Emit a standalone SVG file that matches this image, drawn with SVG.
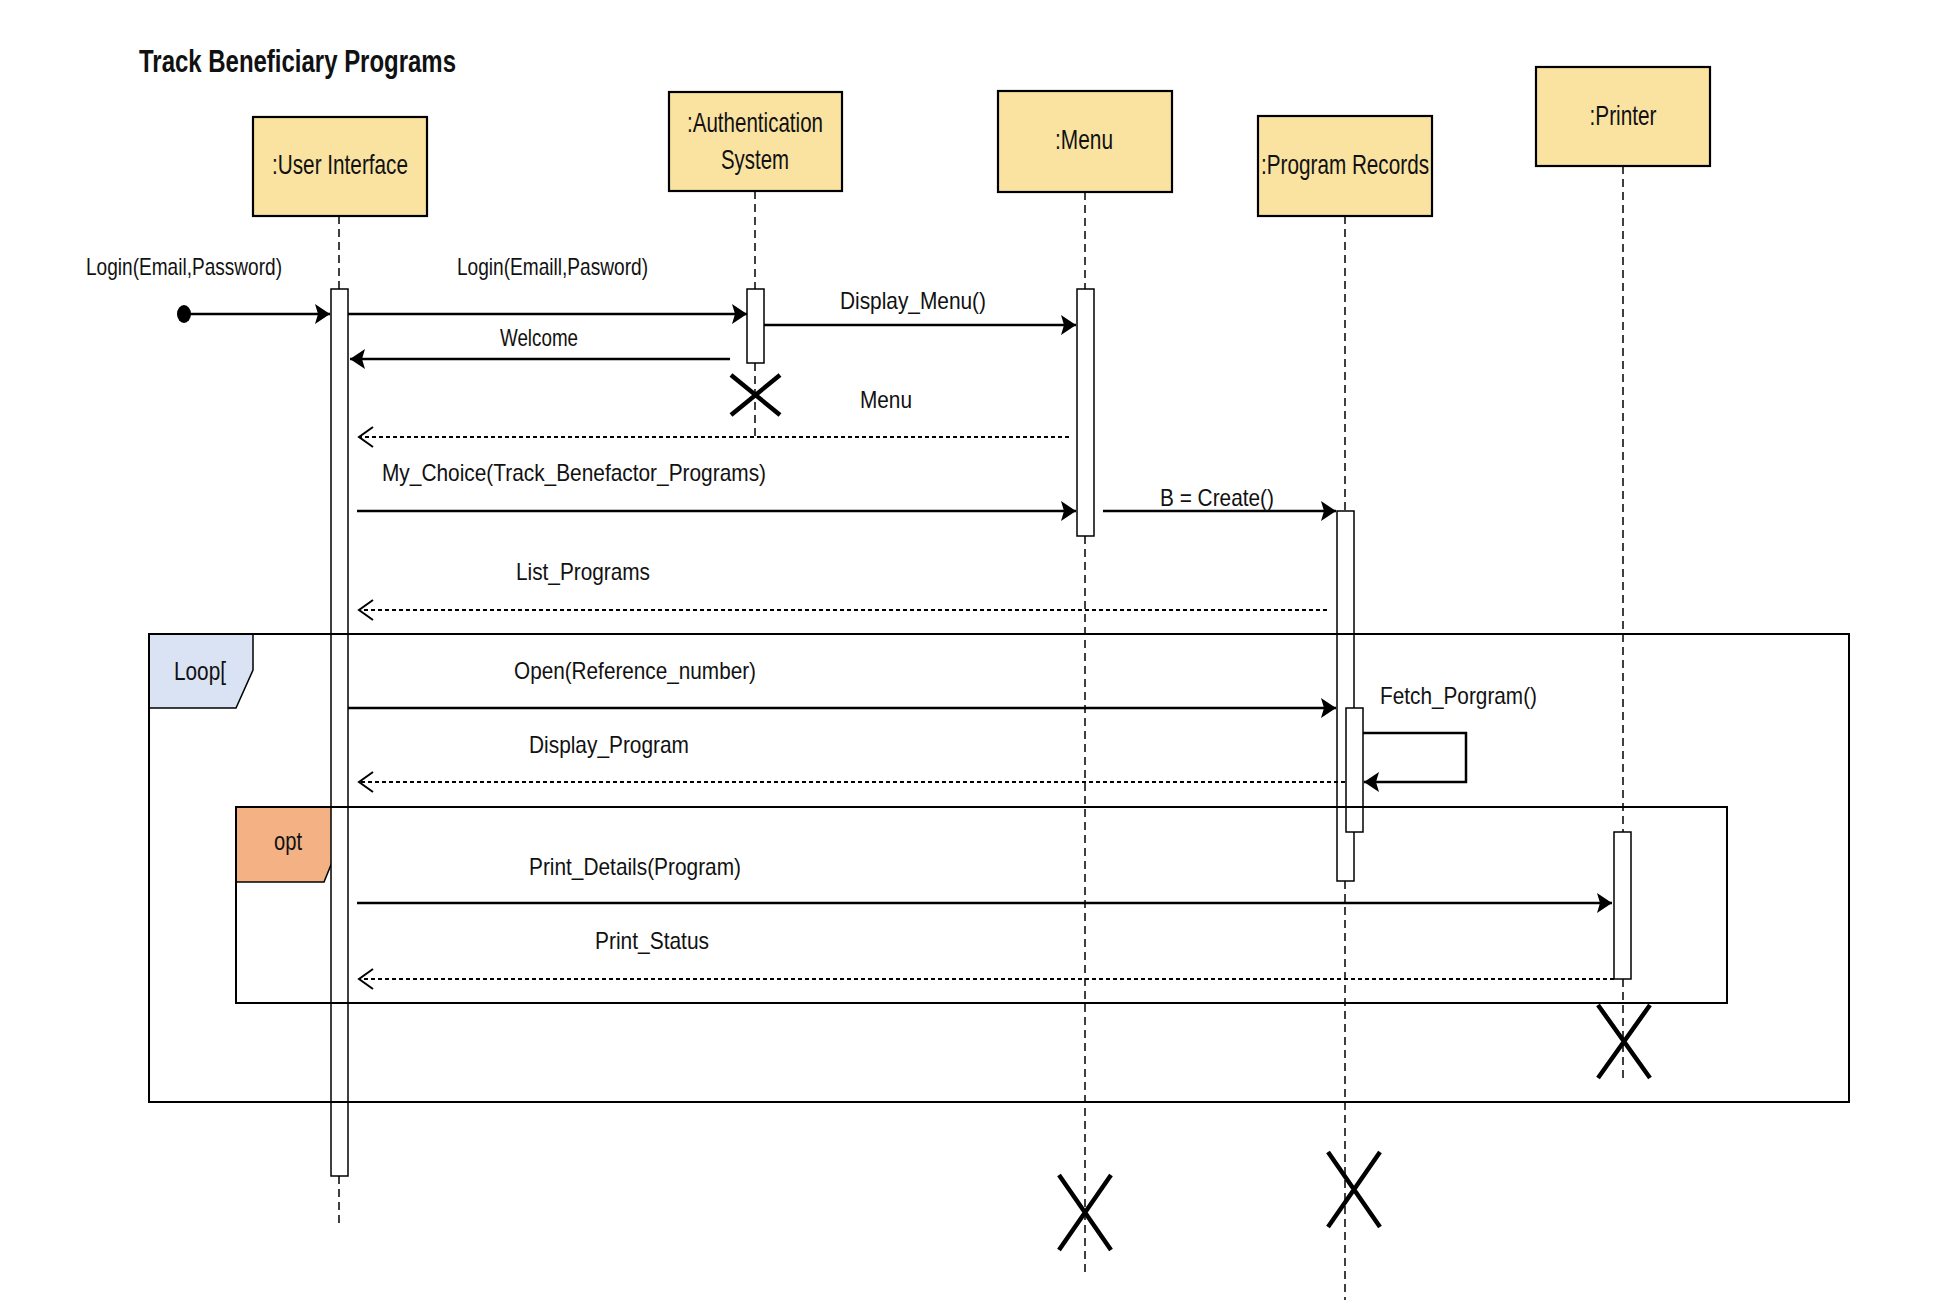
<svg xmlns="http://www.w3.org/2000/svg" width="1958" height="1314" viewBox="0 0 1958 1314">
<style>
text{font-family:"Liberation Sans",Arial,sans-serif;fill:#111}
.head{fill:#FAE3A1;stroke:#000;stroke-width:2.2}
.hl{font-size:28px;text-anchor:middle}
.msg{font-size:24px}
.life{stroke:#000;stroke-width:1.5;stroke-dasharray:8 5;fill:none}
.act{fill:#fff;stroke:#000;stroke-width:1.5}
.sync{stroke:#000;stroke-width:2.5;fill:none;marker-end:url(#fill)}
.ret{stroke:#000;stroke-width:2.2;stroke-dasharray:4 3;fill:none;marker-end:url(#open)}
.frame{fill:none;stroke:#000;stroke-width:2}
.x{stroke:#000;stroke-width:4.5;fill:none}
</style>
<defs>
<marker id="fill" markerUnits="userSpaceOnUse" markerWidth="16" markerHeight="22" refX="15" refY="10" orient="auto" viewBox="0 0 16 22">
<path d="M0,0 L15,10 L0,20 L3,10 Z" fill="#000"/>
</marker>
<marker id="open" markerUnits="userSpaceOnUse" markerWidth="18" markerHeight="24" refX="15" refY="11" orient="auto" viewBox="0 0 18 24">
<path d="M1,1 L15,11 L1,21" fill="none" stroke="#000" stroke-width="2"/>
</marker>
</defs>
<rect width="1958" height="1314" fill="#fff"/>
<text x="139" y="72" font-size="31" font-weight="bold" textLength="317" lengthAdjust="spacingAndGlyphs">Track Beneficiary Programs</text>

<g id="frames-tags">
<polygon points="149,634 253,634 253,670 236,708 149,708" fill="#DAE3F3" stroke="#000" stroke-width="1.5"/>
<polygon points="236,807 339,807 339,845 324,882 236,882" fill="#F4B183" stroke="#000" stroke-width="1.5"/>
</g>

<g id="user-interface">
<rect class="head" x="253" y="117" width="174" height="99"/>
<text class="hl" x="340" y="174" textLength="136" lengthAdjust="spacingAndGlyphs">:User Interface</text>
<line class="life" x1="339" y1="216" x2="339" y2="289"/>
<rect class="act" x="331" y="289" width="17" height="887"/>
<line class="life" x1="339" y1="1176" x2="339" y2="1227"/>
</g>

<g id="authentication-system">
<rect class="head" x="669" y="92" width="173" height="99"/>
<text class="hl" x="755" y="132" textLength="136" lengthAdjust="spacingAndGlyphs">:Authentication</text>
<text class="hl" x="755" y="169" textLength="68" lengthAdjust="spacingAndGlyphs">System</text>
<line class="life" x1="755" y1="191" x2="755" y2="289"/>
<rect class="act" x="747" y="289" width="17" height="74"/>
<line class="life" x1="755" y1="363" x2="755" y2="440"/>
<path class="x" d="M731,375 L780,415 M780,375 L731,415"/>
</g>

<g id="menu">
<rect class="head" x="998" y="91" width="174" height="101"/>
<text class="hl" x="1084" y="149" textLength="58" lengthAdjust="spacingAndGlyphs">:Menu</text>
<line class="life" x1="1085" y1="192" x2="1085" y2="289"/>
<rect class="act" x="1077" y="289" width="17" height="247"/>
<line class="life" x1="1085" y1="536" x2="1085" y2="1277"/>
<path class="x" d="M1059,1175 L1111,1250 M1111,1175 L1059,1250"/>
</g>

<g id="program-records">
<rect class="head" x="1258" y="116" width="174" height="100"/>
<text class="hl" x="1345" y="174" textLength="168" lengthAdjust="spacingAndGlyphs">:Program Records</text>
<line class="life" x1="1345" y1="216" x2="1345" y2="511"/>
<rect class="act" x="1337" y="511" width="17" height="370"/>
<rect class="act" x="1346" y="708" width="17" height="124"/>
<line class="life" x1="1345" y1="881" x2="1345" y2="1300"/>
<path class="x" d="M1328,1152 L1380,1227 M1380,1152 L1328,1227"/>
</g>

<g id="printer">
<rect class="head" x="1536" y="67" width="174" height="99"/>
<text class="hl" x="1623" y="125" textLength="67" lengthAdjust="spacingAndGlyphs">:Printer</text>
<line class="life" x1="1623" y1="166" x2="1623" y2="832"/>
<rect class="act" x="1614" y="832" width="17" height="147"/>
<line class="life" x1="1623" y1="979" x2="1623" y2="1080"/>
<path class="x" d="M1598,1005 L1650,1078 M1650,1005 L1598,1078"/>
</g>

<g id="frames">
<rect class="frame" x="149" y="634" width="1700" height="468"/>
<rect class="frame" x="236" y="807" width="1491" height="196"/>
<text x="200" y="680" font-size="25" text-anchor="middle" textLength="52" lengthAdjust="spacingAndGlyphs">Loop[</text>
<text x="288" y="850" font-size="25" text-anchor="middle" textLength="28" lengthAdjust="spacingAndGlyphs">opt</text>
</g>

<g id="connectors">
<ellipse cx="184" cy="314" rx="7" ry="9" fill="#000"/>
<line class="sync" x1="190" y1="314" x2="330" y2="314"/>
<text class="msg" x="86" y="275" textLength="196" lengthAdjust="spacingAndGlyphs">Login(Email,Password)</text>

<line class="sync" x1="348" y1="314" x2="747" y2="314"/>
<text class="msg" x="457" y="275" textLength="191" lengthAdjust="spacingAndGlyphs">Login(Emaill,Pasword)</text>

<line class="sync" x1="764" y1="325" x2="1076" y2="325"/>
<text class="msg" x="840" y="309" textLength="146" lengthAdjust="spacingAndGlyphs">Display_Menu()</text>

<line class="sync" x1="730" y1="359" x2="350" y2="359"/>
<text class="msg" x="500" y="346" textLength="78" lengthAdjust="spacingAndGlyphs">Welcome</text>

<line class="ret" x1="1069" y1="437" x2="359" y2="437"/>
<text class="msg" x="860" y="408" textLength="52" lengthAdjust="spacingAndGlyphs">Menu</text>

<line class="sync" x1="357" y1="511" x2="1076" y2="511"/>
<text class="msg" x="382" y="481" textLength="384" lengthAdjust="spacingAndGlyphs">My_Choice(Track_Benefactor_Programs)</text>

<line class="sync" x1="1103" y1="511" x2="1336" y2="511"/>
<text class="msg" x="1160" y="506" textLength="114" lengthAdjust="spacingAndGlyphs">B = Create()</text>

<line class="ret" x1="1327" y1="610" x2="359" y2="610"/>
<text class="msg" x="516" y="580" textLength="134" lengthAdjust="spacingAndGlyphs">List_Programs</text>

<line class="sync" x1="348" y1="708" x2="1336" y2="708"/>
<text class="msg" x="514" y="679" textLength="242" lengthAdjust="spacingAndGlyphs">Open(Reference_number)</text>

<path class="sync" d="M1363,733 H1466 V782 H1364"/>
<text class="msg" x="1380" y="704" textLength="157" lengthAdjust="spacingAndGlyphs">Fetch_Porgram()</text>

<line class="ret" x1="1345" y1="782" x2="359" y2="782"/>
<text class="msg" x="529" y="753" textLength="160" lengthAdjust="spacingAndGlyphs">Display_Program</text>

<line class="sync" x1="357" y1="903" x2="1612" y2="903"/>
<text class="msg" x="529" y="875" textLength="212" lengthAdjust="spacingAndGlyphs">Print_Details(Program)</text>

<line class="ret" x1="1614" y1="979" x2="359" y2="979"/>
<text class="msg" x="595" y="949" textLength="114" lengthAdjust="spacingAndGlyphs">Print_Status</text>
</g>
</svg>
